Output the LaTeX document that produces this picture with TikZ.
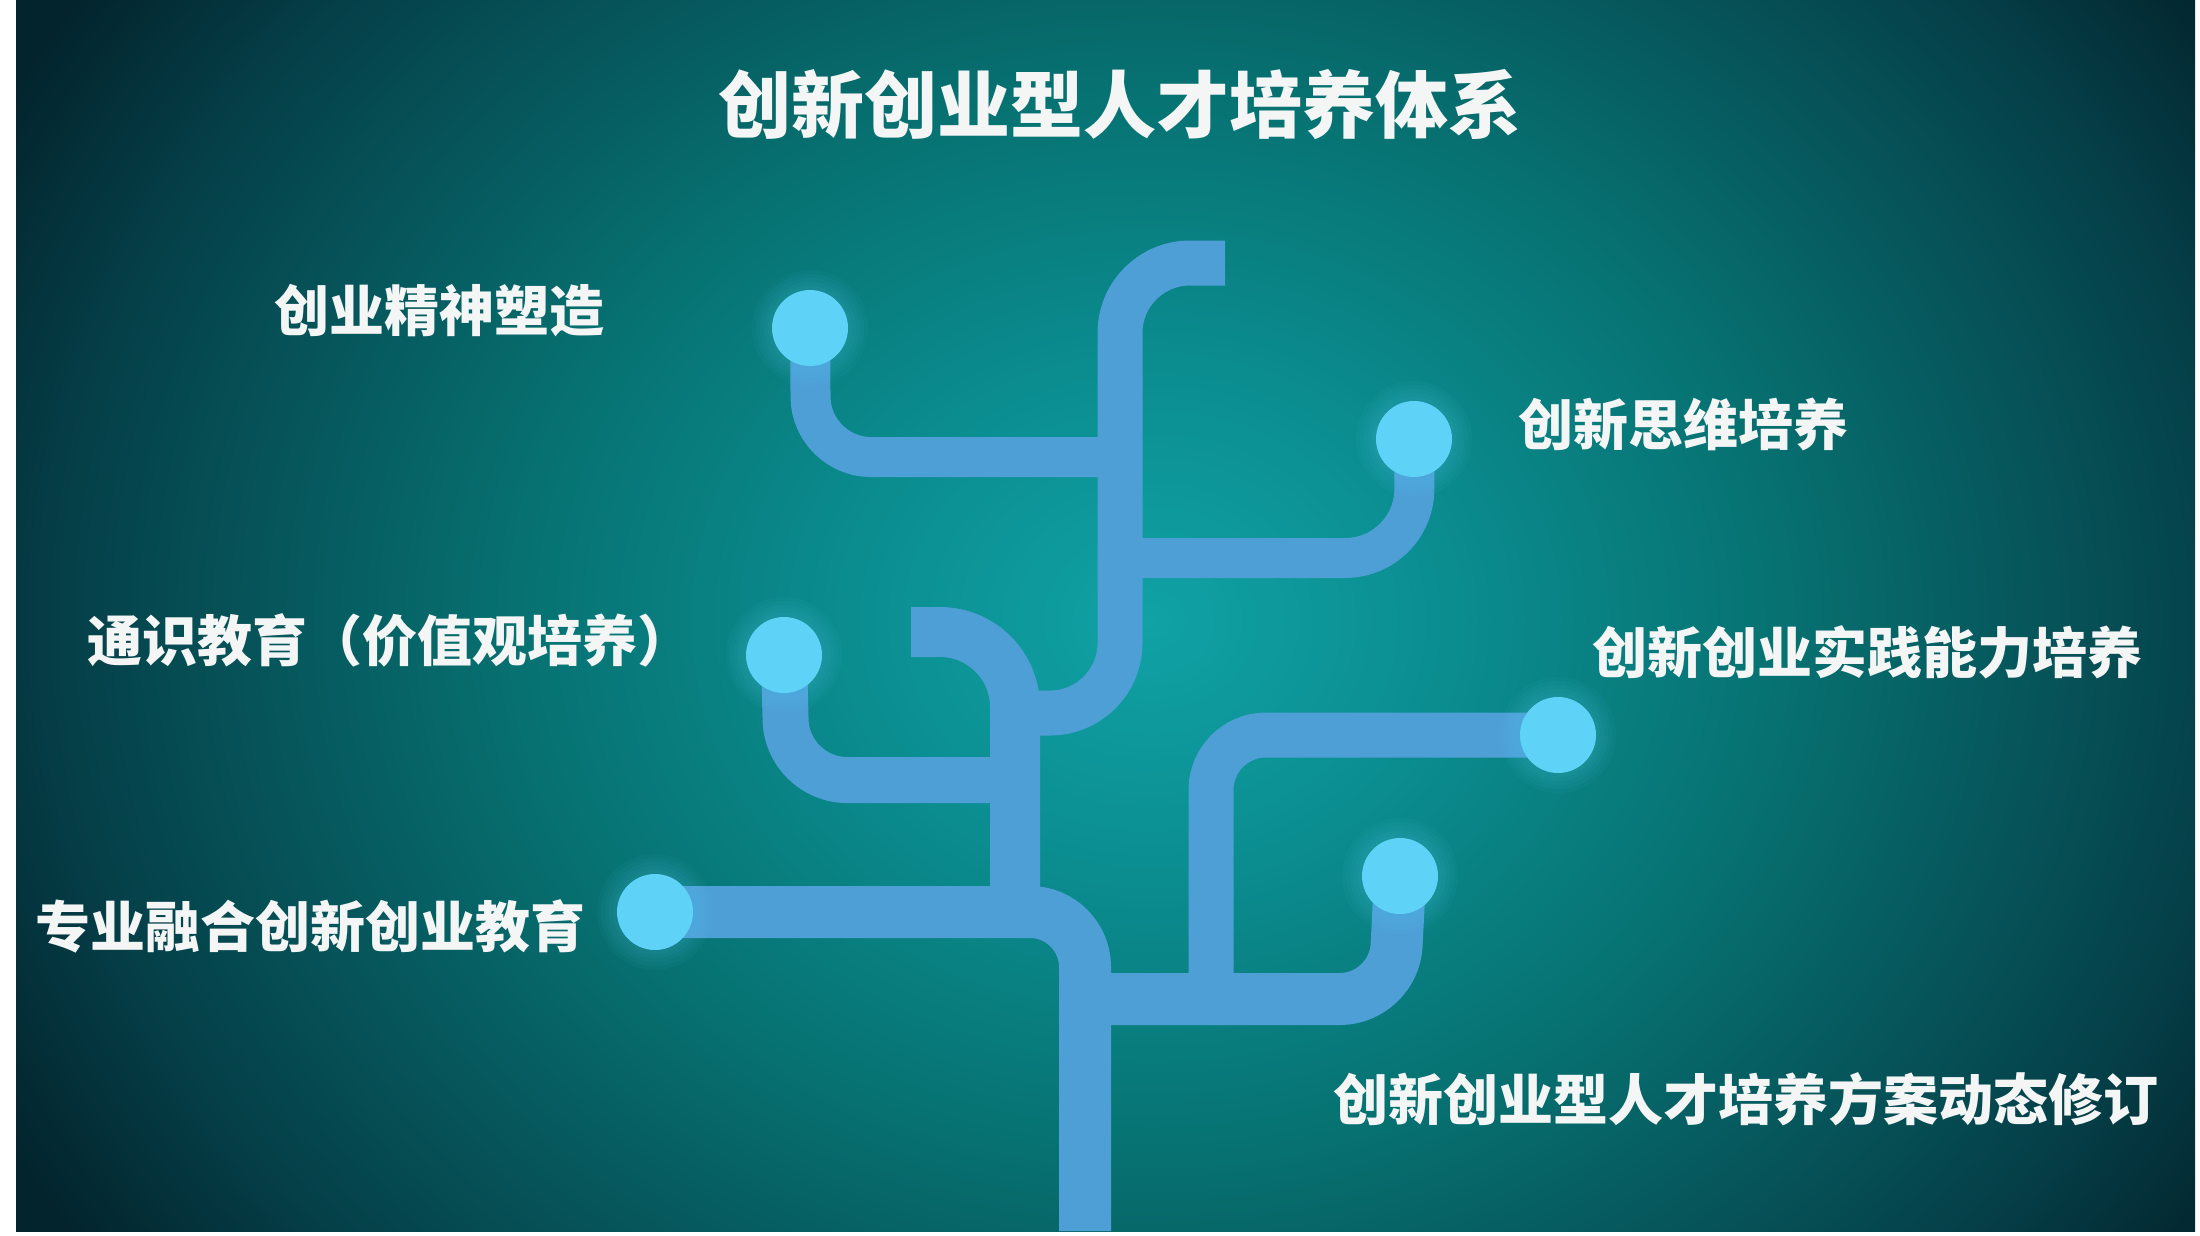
\documentclass[tikz,border=0pt]{standalone}
\usepackage{fontspec}
\newfontfamily\cjk{Noto Sans CJK SC}
\definecolor{bgC}{HTML}{10A2A5}
\definecolor{bgA}{HTML}{0B8D90}
\definecolor{bgB}{HTML}{077272}
\definecolor{bgD}{HTML}{054049}
\definecolor{bgE}{HTML}{03242D}
\definecolor{treec}{HTML}{4E9FD6}
\definecolor{dotc}{HTML}{5ED2F7}
\definecolor{txtc}{HTML}{F4F6F6}
\pgfdeclareradialshading{bgglow}{\pgfpoint{0bp}{0bp}}{%
  color(0bp)=(bgC); color(5.5bp)=(bgA); color(11.5bp)=(bgB); color(20bp)=(bgD); color(24bp)=(bgE); color(50bp)=(bgE)}
\tikzset{
  branch/.style={draw=treec, line cap=butt, line join=round},
  dotnode/.style={circle, fill=dotc, draw=none, minimum size=38pt, inner sep=0pt},
  glow/.style={fill=dotc, draw=none, opacity=0.045},
  lbl/.style={text=txtc, font=\cjk\bfseries\fontsize{27.5pt}{30pt}\selectfont, inner sep=0pt},
  ttl/.style={text=txtc, font=\cjk\bfseries\fontsize{36.5pt}{40pt}\selectfont, inner sep=0pt}
}
\begin{document}
\begin{tikzpicture}[x=0.5pt, y=-0.5pt]
\useasboundingbox (0,0) rectangle (2200,1236);
\fill[white] (0,0) rectangle (2200,1236);
\begin{scope}
  \clip (16,0) rectangle (2195,1231);
  \shade[shading=bgglow] (1150,620) ellipse [x radius=1350, y radius=1150];

  % named points: dots and hook ends
  \coordinate (p1) at (810,328);
  \coordinate (p2) at (1414,439);
  \coordinate (p3) at (784,655);
  \coordinate (p4) at (1558,735);
  \coordinate (p5) at (655,912);
  \coordinate (p6) at (1400,876);
  \coordinate (hookA) at (1225,263);
  \coordinate (hookB) at (911,632);
  \coordinate (root) at (1085,1231);
  \coordinate (jBR) at (1085,999);
  \coordinate (jPR) at (1211,999);

  % trunk pieces
  \draw[branch, line width=22.5pt, rounded corners=35pt] (hookA) -- (1120,263) -- (1120,713) -- (1015,713);
  \draw[branch, line width=25pt, rounded corners=37.5pt] (hookB) -- (1015,632) -- (1015,912);
  \draw[branch, line width=26pt, rounded corners=27.5pt] (p5) -- (1085,912) -- (root);
  % branches
  \draw[branch, line width=20pt, rounded corners=30pt] (p1) -- (811,457) -- (1120,457);
  \draw[branch, line width=20pt, rounded corners=35pt] (p2) -- (1415,558) -- (1120,558);
  \draw[branch, line width=23pt, rounded corners=30pt] (p3) -- (787,780) -- (1015,780);
  \draw[branch, line width=26pt, rounded corners=27pt] (jBR) -- (1394,999) -- (p6);
  \draw[branch, line width=22.5pt, rounded corners=27.5pt] (jPR) -- (1211,735) -- (p4);

  % soft glow around the dots
  \foreach \p in {p1,p2,p3,p4,p5,p6}{
    \foreach \r in {58,54,50,46,42}{
      \fill[glow] (\p) circle [radius=\r];
    }
  }
  \node[dotnode] (d1) at (p1) {};
  \node[dotnode] (d2) at (p2) {};
  \node[dotnode] (d3) at (p3) {};
  \node[dotnode] (d4) at (p4) {};
  \node[dotnode] (d5) at (p5) {};
  \node[dotnode] (d6) at (p6) {};
\end{scope}

% texts
\node[ttl] (title) at (1120,105) {创新创业型人才培养体系};
\node[lbl, anchor=west] (t1) at (274,311) {创业精神塑造};
\node[lbl, anchor=west] (t2) at (1518,424) {创新思维培养};
\node[lbl, anchor=west] (t3) at (87,640) {通识教育（价值观培养）};
\node[lbl, anchor=west] (t4) at (1592,652) {创新创业实践能力培养};
\node[lbl, anchor=west] (t5) at (35,926) {专业融合创新创业教育};
\node[lbl, anchor=west] (t6) at (1333,1099) {创新创业型人才培养方案动态修订};
\end{tikzpicture}
\end{document}
